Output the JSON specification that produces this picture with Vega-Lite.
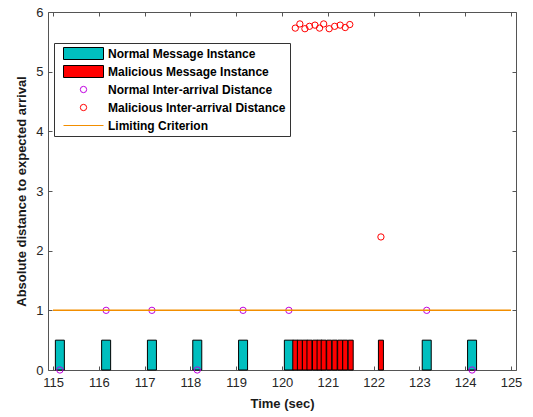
{
  "$schema": "https://vega.github.io/schema/vega-lite/v6.json",
  "width": 468,
  "height": 358,
  "autosize": {"type": "none"},
  "padding": {"left": 48, "top": 12, "right": 17, "bottom": 47},
  "background": "white",
  "config": {
    "font": "Liberation Sans",
    "view": {"stroke": "#555", "strokeWidth": 1},
    "axis": {
      "grid": false,
      "domain": false,
      "labelFont": "Liberation Sans",
      "labelFontSize": 13,
      "labelColor": "#262626",
      "titleFont": "Liberation Sans",
      "titleFontSize": 13,
      "titleFontWeight": "bold",
      "titleColor": "#1a1a1a",
      "tickColor": "#555",
      "tickSize": -4
    },
    "legend": {
      "orient": "none", "legendX": 6, "legendY": 31,
      "fillColor": "white", "strokeColor": "#333", "padding": 4,
      "labelFont": "Liberation Sans", "labelFontSize": 12, "labelFontWeight": "bold", "labelColor": "#000",
      "labelLimit": 400, "clipHeight": 13, "rowPadding": 5, "labelOffset": 4, "symbolOffset": 5,
      "symbolStrokeWidth": 1, "symbolOpacity": 1
    }
  },
  "resolve": {"axis": {"x": "independent", "y": "independent"}},
  "datasets": {
    "messages": [
      {"time": 115.15, "height": 0.5, "series": "Normal Message Instance"},
      {"time": 116.16, "height": 0.5, "series": "Normal Message Instance"},
      {"time": 117.16, "height": 0.5, "series": "Normal Message Instance"},
      {"time": 118.15, "height": 0.5, "series": "Normal Message Instance"},
      {"time": 119.15, "height": 0.5, "series": "Normal Message Instance"},
      {"time": 120.15, "height": 0.5, "series": "Normal Message Instance"},
      {"time": 123.16, "height": 0.5, "series": "Normal Message Instance"},
      {"time": 124.15, "height": 0.5, "series": "Normal Message Instance"},
      {"time": 120.29, "height": 0.5, "series": "Malicious Message Instance"},
      {"time": 120.39, "height": 0.5, "series": "Malicious Message Instance"},
      {"time": 120.50, "height": 0.5, "series": "Malicious Message Instance"},
      {"time": 120.60, "height": 0.5, "series": "Malicious Message Instance"},
      {"time": 120.72, "height": 0.5, "series": "Malicious Message Instance"},
      {"time": 120.82, "height": 0.5, "series": "Malicious Message Instance"},
      {"time": 120.91, "height": 0.5, "series": "Malicious Message Instance"},
      {"time": 121.03, "height": 0.5, "series": "Malicious Message Instance"},
      {"time": 121.15, "height": 0.5, "series": "Malicious Message Instance"},
      {"time": 121.27, "height": 0.5, "series": "Malicious Message Instance"},
      {"time": 121.38, "height": 0.5, "series": "Malicious Message Instance"},
      {"time": 121.50, "height": 0.5, "series": "Malicious Message Instance"},
      {"time": 122.16, "height": 0.5, "series": "Malicious Message Instance"}
    ],
    "distances": [
      {"time": 115.15, "distance": 0, "series": "Normal Inter-arrival Distance"},
      {"time": 116.16, "distance": 1, "series": "Normal Inter-arrival Distance"},
      {"time": 117.16, "distance": 1, "series": "Normal Inter-arrival Distance"},
      {"time": 118.15, "distance": 0, "series": "Normal Inter-arrival Distance"},
      {"time": 119.15, "distance": 1, "series": "Normal Inter-arrival Distance"},
      {"time": 120.15, "distance": 1, "series": "Normal Inter-arrival Distance"},
      {"time": 123.16, "distance": 1, "series": "Normal Inter-arrival Distance"},
      {"time": 124.15, "distance": 0, "series": "Normal Inter-arrival Distance"},
      {"time": 120.29, "distance": 5.73, "series": "Malicious Inter-arrival Distance"},
      {"time": 120.39, "distance": 5.80, "series": "Malicious Inter-arrival Distance"},
      {"time": 120.50, "distance": 5.72, "series": "Malicious Inter-arrival Distance"},
      {"time": 120.60, "distance": 5.76, "series": "Malicious Inter-arrival Distance"},
      {"time": 120.72, "distance": 5.78, "series": "Malicious Inter-arrival Distance"},
      {"time": 120.82, "distance": 5.73, "series": "Malicious Inter-arrival Distance"},
      {"time": 120.91, "distance": 5.80, "series": "Malicious Inter-arrival Distance"},
      {"time": 121.03, "distance": 5.72, "series": "Malicious Inter-arrival Distance"},
      {"time": 121.15, "distance": 5.76, "series": "Malicious Inter-arrival Distance"},
      {"time": 121.27, "distance": 5.78, "series": "Malicious Inter-arrival Distance"},
      {"time": 121.38, "distance": 5.74, "series": "Malicious Inter-arrival Distance"},
      {"time": 121.48, "distance": 5.79, "series": "Malicious Inter-arrival Distance"},
      {"time": 122.16, "distance": 2.23, "series": "Malicious Inter-arrival Distance"}
    ],
    "criterion": [
      {"start": 115, "end": 125, "value": 1, "series": "Limiting Criterion"}
    ]
  },
  "layer": [
    {
      "data": {"name": "messages"},
      "mark": {"type": "bar", "stroke": "#000", "strokeWidth": 1},
      "encoding": {
        "x": {
          "field": "time", "type": "quantitative",
          "scale": {"domain": [115, 125], "nice": false, "zero": false},
          "axis": {"orient": "bottom", "values": [115, 116, 117, 118, 119, 120, 121, 122, 123, 124, 125], "format": "d", "title": "Time (sec)", "labelPadding": 10, "titlePadding": 8}
        },
        "y": {
          "field": "height", "type": "quantitative",
          "scale": {"domain": [0, 6], "nice": false},
          "axis": {"orient": "left", "values": [0, 1, 2, 3, 4, 5, 6], "title": "Absolute distance to expected arrival", "labelPadding": 9, "titlePadding": 7}
        },
        "size": {"condition": {"test": "datum.series == 'Normal Message Instance'", "value": 9}, "value": 5},
        "fill": {
          "field": "series", "type": "nominal",
          "scale": {
            "domain": ["Normal Message Instance", "Malicious Message Instance", "Normal Inter-arrival Distance", "Malicious Inter-arrival Distance", "Limiting Criterion"],
            "range": ["#00BFBF", "#FF0000", "transparent", "transparent", "transparent"]
          },
          "legend": {"title": null, "orient": "none", "legendX": 6, "legendY": 31}
        }
      }
    },
    {
      "data": {"name": "distances"},
      "mark": {"type": "point", "filled": false, "strokeWidth": 1, "opacity": 1},
      "encoding": {
        "x": {"field": "time", "type": "quantitative", "axis": null},
        "y": {"field": "distance", "type": "quantitative", "axis": null},
        "stroke": {
          "field": "series", "type": "nominal",
          "scale": {
            "domain": ["Normal Message Instance", "Malicious Message Instance", "Normal Inter-arrival Distance", "Malicious Inter-arrival Distance", "Limiting Criterion"],
            "range": ["#000000", "#000000", "#C000E0", "#FF0000", "#F28E00"]
          },
          "legend": {"title": null, "orient": "none", "legendX": 6, "legendY": 31}
        },
        "shape": {
          "field": "series", "type": "nominal",
          "scale": {
            "domain": ["Normal Message Instance", "Malicious Message Instance", "Normal Inter-arrival Distance", "Malicious Inter-arrival Distance", "Limiting Criterion"],
            "range": ["M-1,-0.3H1V0.3H-1Z", "M-1,-0.3H1V0.3H-1Z", "circle", "circle", "M-1,0H1"]
          },
          "legend": {"title": null, "orient": "none", "legendX": 6, "legendY": 31}
        },
        "size": {
          "field": "series", "type": "nominal",
          "scale": {
            "type": "ordinal",
            "domain": ["Normal Message Instance", "Malicious Message Instance", "Normal Inter-arrival Distance", "Malicious Inter-arrival Distance", "Limiting Criterion"],
            "range": [1600, 1600, 40, 40, 1600]
          },
          "legend": {"title": null, "orient": "none", "legendX": 6, "legendY": 31}
        }
      }
    },
    {
      "data": {"name": "criterion"},
      "mark": {"type": "rule", "strokeWidth": 1.5},
      "encoding": {
        "x": {"field": "start", "type": "quantitative", "axis": {"orient": "top", "values": [115, 116, 117, 118, 119, 120, 121, 122, 123, 124, 125], "labels": false, "title": null}},
        "x2": {"field": "end"},
        "y": {"field": "value", "type": "quantitative", "axis": {"orient": "right", "values": [0, 1, 2, 3, 4, 5, 6], "labels": false, "title": null}},
        "stroke": {"field": "series", "type": "nominal", "legend": {"title": null, "orient": "none", "legendX": 6, "legendY": 31}}
      }
    }
  ]
}
